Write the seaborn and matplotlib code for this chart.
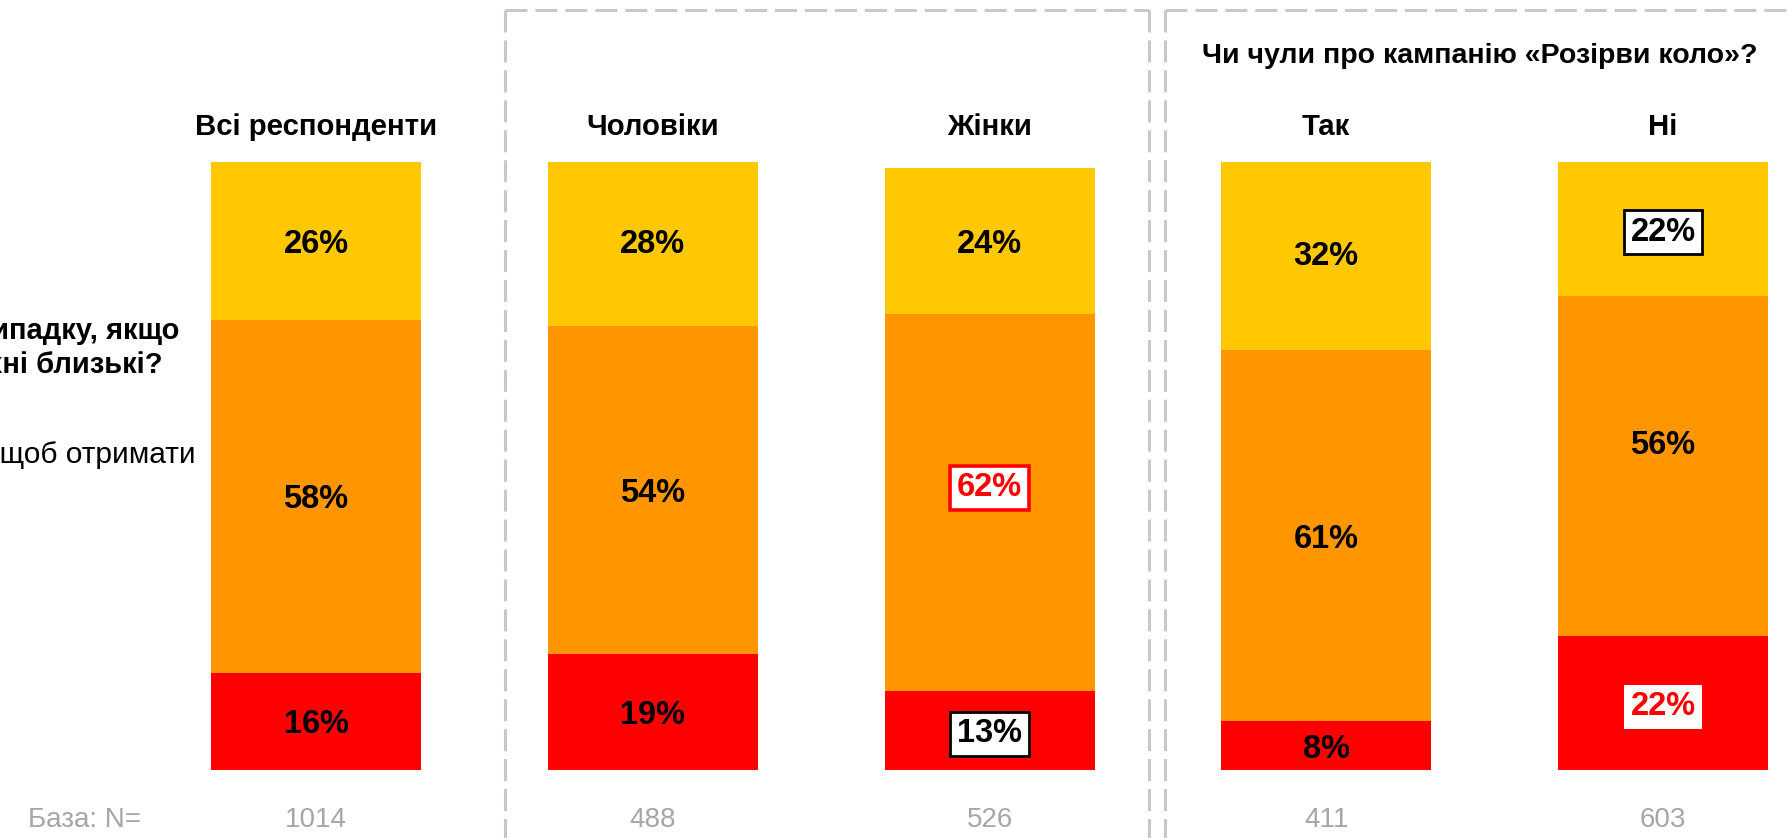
import matplotlib
matplotlib.use("Agg")
import matplotlib.pyplot as plt
from matplotlib.lines import Line2D
import pandas as pd
import seaborn as sns

# Survey groups and response shares (%)
groups = ["Всі респонденти", "Чоловіки", "Жінки", "Так", "Ні"]
base_n = [1014, 488, 526, 411, 603]
top_share = [26, 28, 24, 32, 22]   # yellow segment
mid_share = [58, 54, 62, 61, 56]   # orange segment
low_share = [16, 19, 13, 8, 22]    # red segment

campaign_question = "Чи чули про кампанію «Розірви коло»?"
base_label = "База: N="

YELLOW = "#FFC800"
ORANGE = "#FF9600"
RED = "#FF0000"
GREY_TXT = "#A6A6A6"
DASH = "#C8C8C8"

sns.set_theme(style="white")
plt.rcParams["font.family"] = ["Liberation Sans", "DejaVu Sans"]

W, H = 1791, 838
fig = plt.figure(figsize=(W / 100, H / 100), dpi=100)

# plotting area: 0..100 % between pixel rows 770 (bottom) and 162 (top)
ax = fig.add_axes([0, (H - 770) / H, 1, 608 / H])
step = 336.75
x0 = 316
bar_w = 210 / step

df = pd.DataFrame({"group": groups, "low": low_share, "mid": mid_share, "top": top_share})
df["c_mid"] = df["low"] + df["mid"]
df["c_top"] = df["c_mid"] + df["top"]

for col, colr in [("c_top", YELLOW), ("c_mid", ORANGE), ("low", RED)]:
    sns.barplot(data=df, x="group", y=col, order=groups, color=colr, saturation=1,
                width=bar_w, errorbar=None, linewidth=0, ax=ax)

ax.set_xlim(-x0 / step, (W - x0) / step)
ax.set_ylim(0, 100)
ax.set_axis_off()

px_per_unit = 608 / 100


def y_of(py):
    return (770 - py) / px_per_unit


# segment labels
nudge = {(2, "mid"): 3, (4, "mid"): 4}
boxed = {
    (2, "mid"): dict(fc="white", ec=RED, lw=2.6, txt=RED),
    (2, "low"): dict(fc="white", ec="black", lw=2.0, txt="black"),
    (4, "top"): dict(fc="white", ec="black", lw=2.0, txt="black"),
    (4, "low"): dict(fc="white", ec="white", lw=0.0, txt=RED),
}
for i in range(len(groups)):
    lo, md, tp = low_share[i], mid_share[i], top_share[i]
    segs = {"low": (lo / 2, lo), "mid": (lo + md / 2, md), "top": (lo + md + tp / 2, tp)}
    for key, (ymid, val) in segs.items():
        ymid += nudge.get((i, key), 0)
        style = boxed.get((i, key))
        kw = dict(ha="center", va="center_baseline", fontsize=23.5,
                  fontweight="bold", zorder=5)
        if style:
            ax.text(i, ymid, f"{val}%", color=style["txt"],
                    bbox=dict(boxstyle="square,pad=0.2", fc=style["fc"],
                              ec=style["ec"], lw=style["lw"]), **kw)
        else:
            ax.text(i, ymid, f"{val}%", color="black", **kw)

# group titles and bases
for i, g in enumerate(groups):
    ax.text(i, y_of(124), g, ha="center", va="center_baseline", fontsize=21.2,
            fontweight="bold", color="black", clip_on=False)
    ax.text(i, y_of(820), str(base_n[i]), ha="center", va="center", fontsize=20,
            color=GREY_TXT, clip_on=False,
            family=["Liberation Sans Narrow", "Liberation Sans"])

fig.text(84 / W, 1 - 820 / H, base_label, ha="center", va="center", fontsize=20,
         color=GREY_TXT, family=["Liberation Sans Narrow", "Liberation Sans"])

fig.text(1480 / W, 1 - 56 / H, campaign_question, ha="center", va="center",
         fontsize=20.5, fontweight="bold", color="black")

# question text running in from the left column
fig.text(179 / W, 1 - 331 / H, "Як би ви вчинили у випадку, якщо", ha="right",
         va="center", fontsize=21, fontweight="bold", color="black")
fig.text(162 / W, 1 - 365 / H, "насильства зазнали ви або їхні близькі?",
         ha="right", va="center", fontsize=21, fontweight="bold", color="black")
fig.text(196 / W, 1 - 455 / H, "Звернуся до поліції, щоб отримати", ha="right",
         va="center", fontsize=21.5, color="black")

# dashed group frames
dash = dict(color=DASH, lw=2.2, linestyle=(0, (7.2, 2.6)), transform=None)


def fline(xs, ys):
    fig.add_artist(Line2D([x for x in xs], [H - y for y in ys], **dash))


fline([505, 505], [10, H])
fline([505, 1149], [10, 10])
fline([1149, 1149], [10, H])
fline([1165, 1165], [10, H])
fline([1165, W], [10, 10])

fig.savefig("out.png", dpi=100)
